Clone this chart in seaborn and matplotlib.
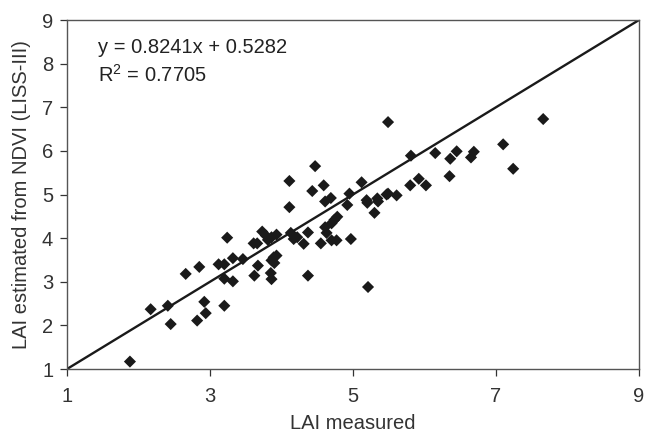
import numpy as np
import pandas as pd
import seaborn as sns
from matplotlib import pyplot as plt

# LAI measured vs LAI estimated from NDVI (LISS-III)
lai_measured = [1.88, 2.17, 2.41, 2.45, 2.66, 2.85, 2.82, 2.92, 2.94, 3.12,
                3.20, 3.20, 3.20, 3.24, 3.32, 3.32, 3.46, 3.61, 3.66, 3.62,
                3.67, 3.73, 3.78, 3.81, 3.86, 3.93, 3.86, 3.89, 3.93, 3.90,
                3.85, 3.86, 4.11, 4.11, 4.13, 4.17, 4.22, 4.31, 4.37, 4.37,
                4.43, 4.47, 4.55, 4.59, 4.61, 4.69, 4.61, 4.63, 4.70, 4.74,
                4.78, 4.70, 4.77, 4.92, 4.95, 4.97, 5.12, 5.19, 5.20, 5.21,
                5.30, 5.34, 5.35, 5.47, 5.49, 5.49, 5.61, 5.80, 5.81, 5.92,
                6.02, 6.15, 6.35, 6.36, 6.45, 6.65, 6.69, 7.10, 7.24, 7.66]
lai_estimated = [1.17, 2.37, 2.45, 2.03, 3.18, 3.34, 2.11, 2.54, 2.28, 3.40,
                 3.40, 3.07, 2.45, 4.01, 3.54, 3.01, 3.52, 3.88, 3.88, 3.14,
                 3.37, 4.15, 4.06, 3.96, 4.02, 4.08, 3.49, 3.56, 3.60, 3.43,
                 3.20, 3.06, 5.31, 4.71, 4.12, 3.98, 4.02, 3.87, 4.13, 3.14,
                 5.08, 5.65, 3.88, 5.21, 4.84, 4.92, 4.25, 4.12, 4.34, 4.42,
                 4.49, 3.95, 3.95, 4.76, 5.02, 3.98, 5.28, 4.87, 4.81, 2.88,
                 4.58, 4.91, 4.84, 5.00, 5.02, 6.66, 4.98, 5.21, 5.89, 5.36,
                 5.21, 5.95, 5.42, 5.82, 5.99, 5.85, 5.98, 6.15, 5.59, 6.73]
one_to_one = [1, 9]
x_ticks = [1, 3, 5, 7, 9]
y_ticks = [1, 2, 3, 4, 5, 6, 7, 8, 9]
eq_text = "y = 0.8241x + 0.5282"
r2_text = "R$^2$ = 0.7705"

df = pd.DataFrame({"measured": lai_measured, "estimated": lai_estimated})

sns.set_style("ticks")
plt.rcParams['font.family'] = ['Liberation Sans', 'DejaVu Sans']
plt.rcParams['mathtext.fontset'] = 'custom'
plt.rcParams['mathtext.rm'] = 'Liberation Sans'

fig = plt.figure(figsize=(6.45, 4.37), dpi=100)
ax = fig.add_axes([0.1039, 0.1556, 0.8868, 0.7986])

# 1:1 line
sns.lineplot(x=one_to_one, y=one_to_one, color='#1a1a1a', linewidth=1.7, ax=ax)
sns.scatterplot(data=df, x="measured", y="estimated", marker='D', s=38,
                color='#1a1a1a', edgecolor='none', ax=ax, zorder=3)

ax.set_xlim(1, 9)
ax.set_ylim(1, 9)
ax.set_xticks(x_ticks)
ax.set_yticks(y_ticks)
ax.tick_params(axis='both', labelsize=14.5, colors='#333333', length=5,
               width=0.9, direction='out')
ax.tick_params(axis='x', pad=8)
ax.tick_params(axis='y', pad=5)
for sp in ax.spines.values():
    sp.set_visible(True)
    sp.set_color('#555555')
    sp.set_linewidth(1.0)

ax.set_xlabel("LAI measured", fontsize=14.5, color='#333333', labelpad=6)
ax.set_ylabel("LAI estimated from NDVI (LISS-III)", fontsize=14.5,
              color='#333333', labelpad=8)

ax.text(0.055, 0.905, eq_text, transform=ax.transAxes, fontsize=14.5,
        color='#222222', va='baseline')
ax.text(0.055, 0.822, r2_text, transform=ax.transAxes, fontsize=14.5,
        color='#222222', va='baseline')

fig.savefig("out.png", dpi=100)
